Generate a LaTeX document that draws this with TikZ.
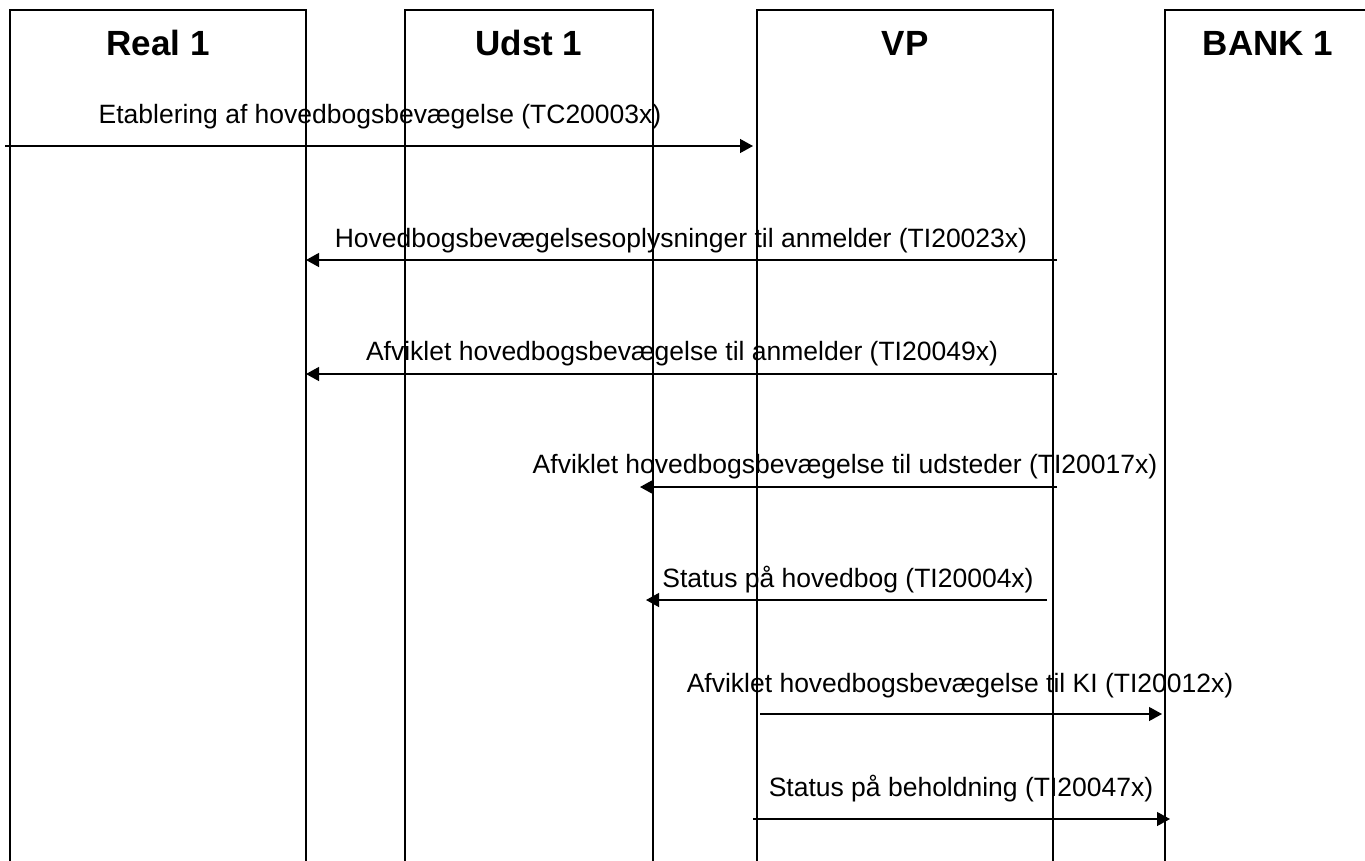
\documentclass[tikz,border=0pt]{standalone}
\usepackage{fontspec}
\setmainfont{Liberation Sans}
\usetikzlibrary{arrows.meta}
\tikzset{
  lifebox/.style={line width=2pt,draw=black},
  title/.style={anchor=base,font=\fontsize{35}{40}\selectfont\bfseries,inner sep=0pt},
  msglabel/.style={anchor=base,font=\fontsize{26.5}{30}\selectfont,inner sep=0pt},
  msg/.style={line width=1.3pt,-{Triangle[length=13pt,width=14pt]}}
}
\begin{document}
\begin{tikzpicture}[x=1pt,y=-1pt]
\useasboundingbox (0,0) rectangle (1365,860);
\clip (0,0) rectangle (1365,860);
\fill[white] (0,0) rectangle (1365,860);
% lifeline boxes
\draw[lifebox] (10,880) -- (10,10) -- (306,10) -- (306,880);
\draw[lifebox] (405,880) -- (405,10) -- (653,10) -- (653,880);
\draw[lifebox] (757,880) -- (757,10) -- (1053,10) -- (1053,880);
\draw[lifebox] (1165,880) -- (1165,10) -- (1375,10);
\node[title] (t1) at (158,55) {Real 1};
\node[title] (t2) at (529,55) {Udst 1};
\node[title] (t3) at (905,55) {VP};
\node[title] (t4) at (1268,55) {BANK 1};
% endpoints
\coordinate (a1s) at (5,146);   \coordinate (a1e) at (753,146);
\coordinate (a2s) at (1057,260);\coordinate (a2e) at (306,260);
\coordinate (a3s) at (1057,374);\coordinate (a3e) at (306,374);
\coordinate (a4s) at (1057,487);\coordinate (a4e) at (640,487);
\coordinate (a5s) at (1047,600);\coordinate (a5e) at (646,600);
\coordinate (a6s) at (760,714); \coordinate (a6e) at (1162,714);
\coordinate (a7s) at (753,819); \coordinate (a7e) at (1170,819);
% labels
\node[msglabel] (l1) at (380,123) {Etablering af hovedbogsbevægelse (TC20003x)};
\node[msglabel] (l2) at (681,247) {Hovedbogsbevægelsesoplysninger til anmelder (TI20023x)};
\node[msglabel] (l3) at (682,360) {Afviklet hovedbogsbevægelse til anmelder (TI20049x)};
\node[msglabel] (l4) at (845,473) {Afviklet hovedbogsbevægelse til udsteder (TI20017x)};
\node[msglabel] (l5) at (848,587) {Status på hovedbog (TI20004x)};
\node[msglabel] (l6) at (960,692) {Afviklet hovedbogsbevægelse til KI (TI20012x)};
\node[msglabel] (l7) at (961,796) {Status på beholdning (TI20047x)};
% messages
\draw[msg] (a1s) -- (a1e);
\draw[msg] (a2s) -- (a2e);
\draw[msg] (a3s) -- (a3e);
\draw[msg] (a4s) -- (a4e);
\draw[msg] (a5s) -- (a5e);
\draw[msg] (a6s) -- (a6e);
\draw[msg] (a7s) -- (a7e);
\end{tikzpicture}
\end{document}
